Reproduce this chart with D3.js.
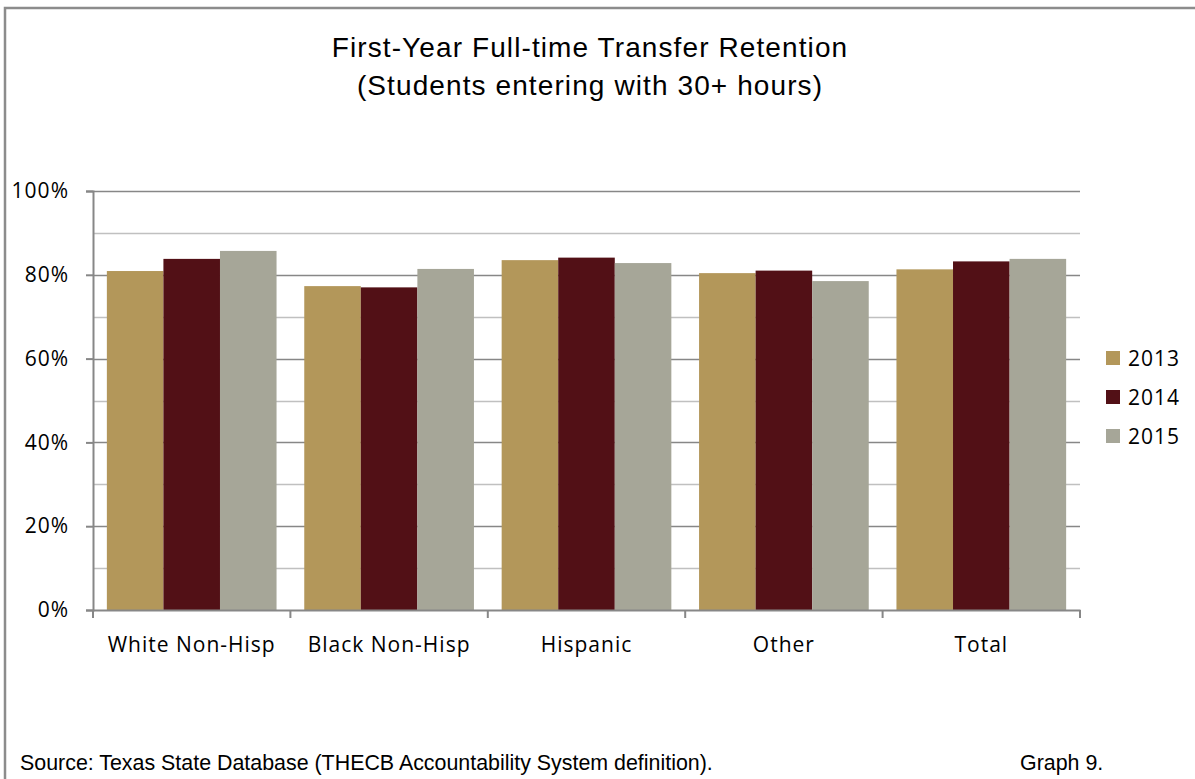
<!DOCTYPE html>
<html><head><meta charset="utf-8">
<script src="https://cdn.jsdelivr.net/npm/d3@7"></script>
<style>body{margin:0;background:#fff;}svg{display:block;}</style>
</head><body>
<svg id="c" width="1195" height="779"></svg>
<script>
const categories = ["White Non-Hisp","Black Non-Hisp","Hispanic","Other","Total"];
const years = ["2013","2014","2015"];
const v2013 = [80.9, 77.3, 83.5, 80.4, 81.3];
const v2014 = [83.8, 77.0, 84.1, 81.0, 83.2];
const v2015 = [85.7, 81.4, 82.8, 78.5, 83.8];
const colors = ["#b3975a", "#521016", "#a6a698"];
const yTicks = [0, 20, 40, 60, 80, 100];
const series = [v2013, v2014, v2015];

const svg = d3.select("#c");
const lblFont = "'Open Sans', Lato, sans-serif";
const arial = "'Liberation Sans', Arial, sans-serif";
// outer border
svg.append("path").attr("d","M5,779 V8 H1195").attr("fill","none").attr("stroke","#8c8c8c").attr("stroke-width",2.5);

svg.append("text").attr("x",590).attr("y",57).attr("text-anchor","middle")
  .attr("font-family",arial).attr("font-size",28).attr("letter-spacing",1.1).text("First-Year Full-time Transfer Retention");
svg.append("text").attr("x",590).attr("y",95).attr("text-anchor","middle")
  .attr("font-family",arial).attr("font-size",28).attr("letter-spacing",1.1).text("(Students entering with 30+ hours)");

const L=93, R=1080, T=191, B=610;
const x = d3.scaleBand().domain(categories).range([L,R]);
const y = d3.scaleLinear().domain([0,100]).range([B,T]);
const xi = d3.scaleBand().domain(years).range([0,x.bandwidth()]).paddingOuter(0.245).paddingInner(0);

// gridlines
const g = svg.append("g");
d3.range(10,101,10).forEach(v=>{
  g.append("line").attr("x1",L).attr("x2",R).attr("y1",Math.round(y(v))+0.5).attr("y2",Math.round(y(v))+0.5)
   .attr("stroke", v%20===0 ? "#878787" : "#c0c0c0").attr("stroke-width",1.5);
});

// bars
series.forEach((s,si)=>{
  svg.append("g").selectAll("rect").data(s).join("rect")
    .attr("x",(d,i)=>x(categories[i])+xi(years[si]))
    .attr("width",xi.bandwidth())
    .attr("y",d=>y(d)).attr("height",d=>B-y(d))
    .attr("fill",colors[si]);
});

// y axis
const ya = svg.append("g").attr("transform",`translate(${L},0)`)
  .call(d3.axisLeft(y).tickValues(yTicks).tickFormat(d=>d+"%").tickSize(7).tickPadding(17));
ya.select(".domain").attr("stroke","#878787").attr("stroke-width",2);
ya.selectAll(".tick line").attr("stroke","#878787").attr("stroke-width",2);
ya.selectAll("text").attr("font-family",lblFont).attr("font-size",21).attr("letter-spacing",1.0).attr("fill","#000");

// x axis
const xa = svg.append("g").attr("transform",`translate(0,${B})`)
  .call(d3.axisBottom(x).tickSize(0).tickPadding(27));
xa.select(".domain").attr("stroke","#878787").attr("stroke-width",2);
xa.selectAll("text").attr("font-family",lblFont).attr("font-size",21).attr("letter-spacing",1.0).attr("fill","#000");
// category separators
const seps = categories.map(c=>x(c)).concat([R]);
xa.selectAll("line.sep").data(seps).join("line").attr("class","sep")
  .attr("x1",d=>d).attr("x2",d=>d).attr("y1",0).attr("y2",8).attr("stroke","#878787").attr("stroke-width",2);

// legend
const lg = svg.append("g");
years.forEach((yr,i)=>{
  const ly = 358 + i*39;
  lg.append("rect").attr("x",1106).attr("y",ly-7).attr("width",14).attr("height",14).attr("fill",colors[i]);
  lg.append("text").attr("x",1128).attr("y",ly+8).attr("font-family",lblFont).attr("font-size",21).attr("letter-spacing",1.0).text(yr);
});

svg.append("text").attr("x",20).attr("y",770).attr("font-family",arial).attr("font-size",21.4)
  .text("Source: Texas State Database (THECB Accountability System definition).");
svg.append("text").attr("x",1020).attr("y",770).attr("font-family",arial).attr("font-size",21.4)
  .text("Graph 9.");
</script>
</body></html>
